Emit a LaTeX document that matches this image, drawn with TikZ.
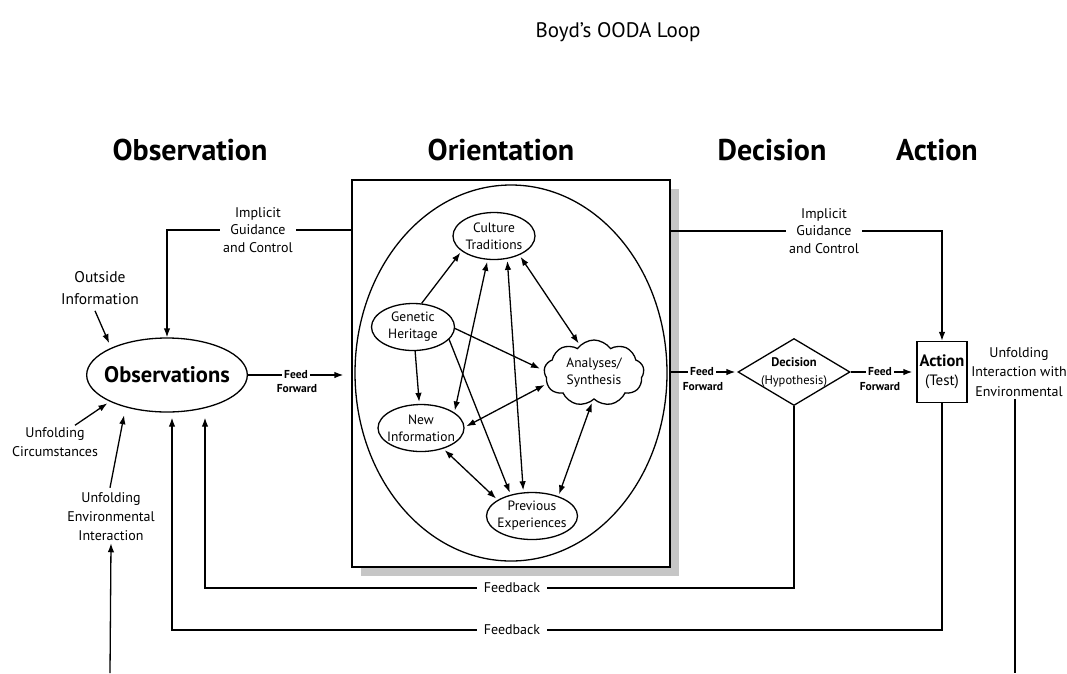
\documentclass[tikz,border=0pt]{standalone}
\usepackage{fontspec}
\setmainfont{PT Sans}
\usetikzlibrary{arrows.meta,shapes.geometric,shapes.symbols,calc}
\tikzset{
  x=1pt, y=-1pt,
  line/.style={line width=1.3pt},
  tip/.style={-{Latex[length=9pt,width=6.5pt]}},
  arr/.style={line, tip},
  dbl/.style={line, {Latex[length=9pt,width=6.5pt]}-{Latex[length=9pt,width=6.5pt]}},
  title/.style={font=\fontsize{21}{25}\selectfont},
  head/.style={font=\bfseries\fontsize{30}{34}\selectfont},
  lbl/.style={align=center, inner sep=2pt, font=\fontsize{14}{17.5}\selectfont},
  side/.style={align=center, inner sep=2pt, font=\fontsize{14}{19}\selectfont},
  ffw/.style={inner sep=2pt, font=\bfseries\fontsize{11.5}{14}\selectfont},
  inner/.style={ellipse, draw, line width=1.3pt, align=center, inner xsep=-5pt, inner ysep=-2pt,
                minimum height=47pt, font=\fontsize{13.5}{17}\selectfont},
}
\begin{document}
\begin{tikzpicture}
\useasboundingbox (0,0) rectangle (1067,673);

% title and phase headings
\node[title] (ttl) at (618,32) {Boyd's OODA Loop};
\node[head] (hobs) at (190,150) {Observation};
\node[head] (hori) at (501,150) {Orientation};
\node[head] (hdec) at (772,150) {Decision};
\node[head] (hact) at (937,150) {Action};

% orientation box with its shadow
\fill[gray!45] (361,189) rectangle (679,576);
\node[draw, fill=white, line width=1.3pt, minimum width=318pt, minimum height=387pt,
      inner sep=0pt] (orient) at (511,373.5) {};
\node[draw, ellipse, line width=1.3pt, minimum width=312pt, minimum height=376pt]
      (frame) at (511,373) {};

% orientation components
\node[inner, minimum width=82pt] (ct) at (494,236) {Culture\\Traditions};
\node[inner, minimum width=83pt] (gh) at (413,327) {Genetic\\Heritage};
\node[inner, minimum width=86pt] (ni) at (421,428) {New\\Information};
\node[inner, minimum width=91pt] (pe) at (532,516) {Previous\\Experiences};
\node[cloud, draw, line width=1.3pt, cloud puffs=9, cloud puff arc=110, aspect=1.5,
      minimum width=100pt, minimum height=66pt, inner sep=-4pt, align=center,
      font=\fontsize{13.5}{17}\selectfont] (as) at (594,373) {Analyses/\\Synthesis};

\draw[arr, shorten >=2pt] (gh.70) -- (ct.205);
\draw[arr, shorten >=2pt] (gh.275) -- (ni.94);
\draw[arr, shorten >=4pt] (gh.358) -- (as.177);
\draw[arr, shorten >=2pt] (gh.341) -- (pe.135);
\draw[dbl, shorten <=2pt, shorten >=2pt] (ct.255) -- (ni.25);
\draw[dbl, shorten <=2pt, shorten >=2pt] (ct.300) -- (pe.110);
\draw[dbl, shorten <=2pt, shorten >=2pt] (ct.323) -- (as.117);
\draw[dbl, shorten <=2pt, shorten >=2pt] (ni.1) -- (as.193);
\draw[dbl, shorten <=2pt, shorten >=2pt] (ni.317) -- (pe.155);
\draw[dbl, shorten <=2pt, shorten >=2pt] (as.267) -- (pe.37);

% observation side
\node[draw, ellipse, line width=1.3pt, minimum width=145pt, minimum height=74pt,
      inner xsep=-6pt, font=\bfseries\fontsize{22.5}{26}\selectfont] (obs) at (167,375) {Observations};
\node[side, font=\fontsize{15.5}{22}\selectfont] (outside) at (100,288) {Outside\\Information};
\node[side] (circ) at (55,442) {Unfolding\\Circumstances};
\node[side] (envi) at (111,517) {Unfolding\\Environmental\\Interaction};
\coordinate (bl) at (110,673);

\draw[arr, shorten >=5pt] ($(outside.south)+(-5,4)$) -- (obs.154);
\draw[arr, shorten >=3pt] ($(circ.north)+(20,0)$) -- (obs.205);
\draw[arr, shorten >=8pt] ($(envi.north)+(-1,-3)$) -- (obs.218);
\draw[arr] (bl) -- (envi.south);

% implicit guidance and control
\node[lbl, inner sep=3pt] (igL) at (258,230) {Implicit\\Guidance\\and Control};
\node[lbl, inner sep=3pt] (igR) at (824,231) {Implicit\\Guidance\\and Control};
\draw[line] (orient.west |- igL.east) -- (igL.east);
\draw[arr] (igL.west) -| (obs.north);

% decision and action
\node[draw, diamond, aspect=1.67, line width=1.3pt, inner sep=-3pt, align=center,
      minimum width=112pt, minimum height=67pt,
      font=\fontsize{12.5}{18}\selectfont] (dec) at (794,372) {\textbf{Decision}\\(Hypothesis)};
\node[draw, line width=1.3pt, minimum width=50pt, minimum height=61pt, inner sep=1pt,
      align=center, font=\fontsize{15}{19.5}\selectfont] (act) at (942,372)
      {{\bfseries\fontsize{16.5}{19}\selectfont Action}\\(Test)};
\node[side, font=\fontsize{14}{19.5}\selectfont] (uie) at (1019,372)
      {Unfolding\\Interaction with\\Environmental};
\coordinate (br) at (1015,673);
\draw[line] ($(uie.south)+(-4,0)$) -- (br);

\draw[line] (orient.east |- igR.west) -- (igR.west);
\draw[arr] (igR.east) -| (act.north);

% feed forward links
\node[ffw] (fa1) at (296,375) {Feed};
\node[ffw] (fb1) at (297,389) {Forward};
\draw[line] (obs.east) -- (fa1.west);
\draw[arr, shorten >=8pt] (fa1.east) -- (orient.west |- fa1.east);

\node[ffw] (fa2) at (702,372) {Feed};
\node[ffw] (fb2) at (703,387) {Forward};
\draw[line] (orient.east |- fa2.west) -- (fa2.west);
\draw[arr, shorten >=2pt] (fa2.east) -- (dec.west);

\node[ffw] (fa3) at (880,372) {Feed};
\node[ffw] (fb3) at (880,387) {Forward};
\draw[line] (dec.east) -- (fa3.west);
\draw[arr, shorten >=4pt] (fa3.east) -- (act.west);

% feedback loops
\node[lbl, inner xsep=7pt] (fbk1) at (512,588) {Feedback};
\node[lbl, inner xsep=7pt] (fbk2) at (512,630) {Feedback};
\draw[line] (dec.south) |- (fbk1.east);
\draw[arr] (fbk1.west) -| ($(obs.south)+(38,5)$);
\draw[line] (act.south) |- (fbk2.east);
\draw[arr] (fbk2.west) -| ($(obs.south)+(5,5)$);
\end{tikzpicture}
\end{document}
